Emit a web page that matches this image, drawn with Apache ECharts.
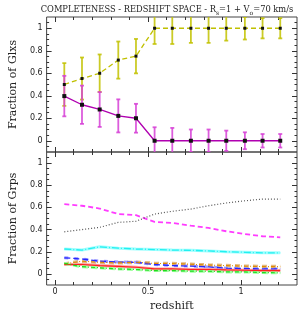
<!DOCTYPE html>
<html><head><meta charset="utf-8">
<script src="https://cdn.jsdelivr.net/npm/echarts@6/dist/echarts.min.js"></script>
<style>html,body{margin:0;padding:0;background:#fff}#c{width:300px;height:314px}</style>
</head><body><div id="c"></div>
<script>
// ---- data ----
const redshift = [0.05, 0.145, 0.24, 0.34, 0.435, 0.535, 0.63, 0.73, 0.825, 0.92, 1.02, 1.115, 1.21];
// top panel: fraction of galaxies
const glxYellow    = [0.5, 0.553, 0.6, 0.717, 0.752, 1, 1, 1, 1, 1, 1, 1, 1];
const glxYellowErr = [0.19, 0.187, 0.167, 0.165, 0.153, 0.14, 0.14, 0.13, 0.13, 0.11, 0.10, 0.09, 0.09];
const glxMagenta    = [0.397, 0.32, 0.278, 0.221, 0.2, 0, 0, 0, 0, 0, 0, 0, 0];
const glxMagentaErr = [0.18, 0.17, 0.155, 0.147, 0.128, 0.12, 0.114, 0.10, 0.10, 0.09, 0.075, 0.06, 0.06];
// bottom panel: fraction of groups
const grpMagenta = [0.63, 0.615, 0.59, 0.54, 0.53, 0.47, 0.46, 0.435, 0.415, 0.385, 0.36, 0.34, 0.33];
const grpGray    = [0.38, 0.40, 0.42, 0.465, 0.475, 0.54, 0.565, 0.585, 0.615, 0.64, 0.66, 0.675, 0.675];
const grpCyan    = [0.225, 0.215, 0.245, 0.232, 0.225, 0.22, 0.215, 0.213, 0.207, 0.2, 0.195, 0.19, 0.19];
const grpBlue    = [0.145, 0.135, 0.115, 0.108, 0.105, 0.085, 0.075, 0.07, 0.063, 0.052, 0.048, 0.045, 0.045];
const grpTan     = [0.09, 0.115, 0.105, 0.1, 0.105, 0.095, 0.093, 0.087, 0.08, 0.075, 0.07, 0.066, 0.066];
const grpRed     = [0.085, 0.085, 0.075, 0.068, 0.06, 0.045, 0.045, 0.04, 0.04, 0.036, 0.033, 0.03, 0.03];
const grpGreen   = [0.095, 0.065, 0.055, 0.045, 0.04, 0.03, 0.03, 0.025, 0.024, 0.018, 0.018, 0.012, 0.01];
// ticks
const xTickLabels = [0, 0.5, 1];
const xMinorTicks = [0, 0.1, 0.2, 0.3, 0.4, 0.5, 0.6, 0.7, 0.8, 0.9, 1, 1.1, 1.2];
const yTickLabels = [0, 0.2, 0.4, 0.6, 0.8, 1];
const yMinorTicks = [-0.05, 0, 0.05, 0.1, 0.15, 0.2, 0.25, 0.3, 0.35, 0.4, 0.45, 0.5, 0.55, 0.6, 0.65, 0.7, 0.75, 0.8, 0.85, 0.9, 0.95, 1, 1.05];

const XMIN = -0.045, XMAX = 1.3, YMIN = -0.1, YMAX = 1.1;
const serif = 'DejaVu Serif';
const tickColor = '#333';

const grids = [
  {left: 32, top: 17, width: 265, height: 135},
  {left: 32, top: 152, width: 265, height: 133}
].map(g => Object.assign(g, {show: true, borderColor: '#444', borderWidth: 1, backgroundColor: 'transparent'}));

const xAxes = [], yAxes = [];
[0, 1].forEach(g => {
  [['bottom', xTickLabels, 5], ['bottom', xMinorTicks, 3], ['top', xTickLabels, 5], ['top', xMinorTicks, 3]].forEach((d, i) => {
    xAxes.push({
      type: 'value', gridIndex: g, position: d[0], min: XMIN, max: XMAX,
      axisLine: {show: false, onZero: false},
      axisTick: {show: true, inside: true, length: d[2], customValues: d[1], lineStyle: {color: tickColor, width: 1}},
      axisLabel: {show: g === 1 && i === 0, customValues: xTickLabels, fontSize: 8, color: '#222', margin: 3, fontFamily: 'DejaVu Sans'},
      splitLine: {show: false},
      name: (g === 1 && i === 0) ? 'redshift' : '',
      nameLocation: 'middle', nameGap: 16,
      nameTextStyle: {fontFamily: serif, fontSize: 11, color: '#222'}
    });
  });
  [['left', yTickLabels, 5], ['left', yMinorTicks, 2.5], ['right', yTickLabels, 5], ['right', yMinorTicks, 2.5]].forEach((d, i) => {
    yAxes.push({
      type: 'value', gridIndex: g, position: d[0], min: YMIN, max: YMAX,
      axisLine: {show: false, onZero: false},
      axisTick: {show: true, inside: true, length: d[2], customValues: d[1], lineStyle: {color: tickColor, width: 1}},
      axisLabel: {show: i === 0, customValues: yTickLabels, fontSize: 8, color: '#222', margin: 4, fontFamily: 'DejaVu Sans'},
      splitLine: {show: false},
      name: i === 0 ? (g === 0 ? 'Fraction of Glxs' : 'Fraction of Grps') : '',
      nameLocation: 'middle', nameGap: 21,
      nameTextStyle: {fontFamily: serif, fontSize: 11, color: '#222'}
    });
  });
});

function pairs(ys) { return redshift.map((x, i) => [x, ys[i]]); }
function errData(ys, es) { return redshift.map((x, i) => [x, ys[i] - es[i], ys[i] + es[i]]); }

function errSeries(ys, es, color) {
  return {
    type: 'custom', xAxisIndex: 0, yAxisIndex: 0, clip: true, z: 2,
    data: errData(ys, es),
    renderItem: (params, api) => {
      const x = api.value(0);
      const a = api.coord([x, api.value(2)]);
      const b = api.coord([x, api.value(1)]);
      const w = 2;
      const st = {stroke: color, lineWidth: 1.8, opacity: 0.85};
      return {type: 'group', children: [
        {type: 'line', shape: {x1: a[0], y1: a[1], x2: b[0], y2: b[1]}, style: st},
        {type: 'line', shape: {x1: a[0] - w, y1: a[1], x2: a[0] + w, y2: a[1]}, style: st},
        {type: 'line', shape: {x1: b[0] - w, y1: b[1], x2: b[0] + w, y2: b[1]}, style: st}
      ]};
    }
  };
}

function grpLine(ys, color, width, type, z) {
  return {
    type: 'line', xAxisIndex: 4, yAxisIndex: 4, data: pairs(ys), showSymbol: false, silent: true,
    lineStyle: {color: color, width: width, type: type, cap: 'butt'}, z: z || 3, animation: false
  };
}

const series = [
  errSeries(glxYellow, glxYellowErr, '#c2c200'),
  errSeries(glxMagenta, glxMagentaErr, '#d640d6'),
  {type: 'line', xAxisIndex: 0, yAxisIndex: 0, data: pairs(glxYellow), symbol: 'rect', symbolSize: 3,
   itemStyle: {color: '#111'}, lineStyle: {color: '#c0c000', width: 1.3, type: [5, 3]}, z: 4},
  {type: 'line', xAxisIndex: 0, yAxisIndex: 0, data: pairs(glxMagenta), symbol: 'rect', symbolSize: 4,
   itemStyle: {color: '#111'}, lineStyle: {color: '#b000b0', width: 1.3}, z: 4},
  // bottom panel: pale thick lines first
  grpLine(grpTan, '#e2b87e', 3.5, [5, 4], 2),
  grpLine(grpBlue, '#9a9aff', 3, [4, 6], 2),
  grpLine(grpRed, '#ff9e9e', 3, 'solid', 2),
  grpLine(grpGreen, '#a0ffa0', 3, [6, 3], 2),
  grpLine(grpCyan, '#a0ffff', 3, 'solid', 2),
  grpLine(grpMagenta, '#ff3cff', 1.8, [5, 3]),
  grpLine(grpGray, '#555555', 1.2, [1, 2]),
  grpLine(grpCyan, '#22f0f0', 1.3, [7, 2, 1, 2]),
  grpLine(grpBlue, '#2626ff', 1.3, [6, 3]),
  grpLine(grpTan, '#e08a00', 1.1, [4, 2, 1, 2]),
  grpLine(grpRed, '#ff2020', 1.2, 'solid'),
  grpLine(grpGreen, '#1edc1e', 1.2, [4, 2, 1, 2])
];

const chart = echarts.init(document.getElementById('c'), null, {renderer: 'canvas'});
chart.setOption({
  animation: false,
  backgroundColor: '#fff',
  title: {
    left: 162, top: -2, textAlign: 'center',
    text: '{a|COMPLETENESS - REDSHIFT SPACE - R}{s|s}{a|=1 + V}{s|o}{a|=70 km/s}',
    textStyle: {fontWeight: 'normal', rich: {
      a: {fontFamily: serif, fontSize: 8.3, fontWeight: 'normal', color: '#222', lineHeight: 13},
      s: {fontFamily: serif, fontSize: 6, fontWeight: 'normal', color: '#222', lineHeight: 13, verticalAlign: 'bottom'}
    }}
  },
  grid: grids,
  xAxis: xAxes,
  yAxis: yAxes,
  series: series
});
</script></body></html>
